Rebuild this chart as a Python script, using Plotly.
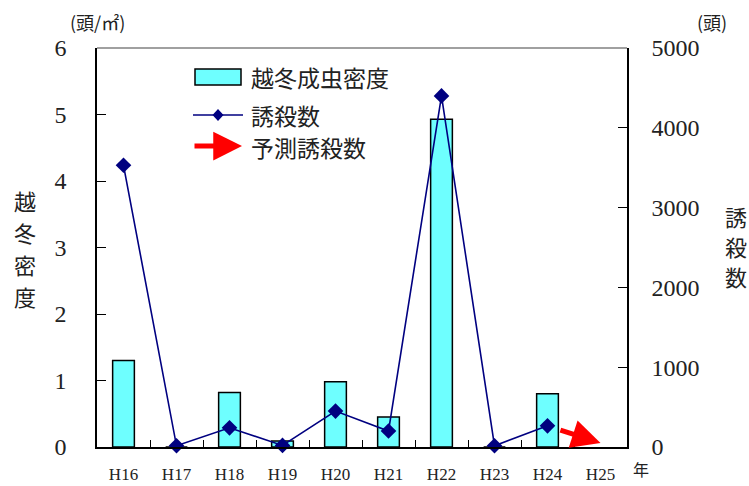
import plotly.graph_objects as go

# Survey years (Heisei era)
years = ["H16", "H17", "H18", "H19", "H20", "H21", "H22", "H23", "H24", "H25"]
# Overwintering adult density (head / m2), left axis
density = [1.3, 0.0, 0.82, 0.09, 0.98, 0.45, 4.93, 0.0, 0.8, None]
# Trap catch counts (heads), right axis
catches = [3530, 15, 240, 20, 450, 200, 4400, 15, 265, None]
# Forecast trap catch for the next year
forecast_from = ("H24", 265)
forecast_to = ("H25", 50)

left_ticks = [0, 1, 2, 3, 4, 5, 6]
right_ticks = [0, 1000, 2000, 3000, 4000, 5000]

W, H = 749, 486
L, R, T, B = 97, 627, 48, 447

serif = "Liberation Serif, Times New Roman, serif"
cjk = "Noto Sans CJK JP, sans-serif"


def px(x):
    return (x - L) / (R - L)


def py(y):
    return (B - y) / (B - T)


fig = go.Figure()

fig.add_trace(go.Bar(
    x=years, y=density, width=0.41,
    marker=dict(color="#6EFFFF", line=dict(color="black", width=1.5)),
    name="越冬成虫密度", yaxis="y",
))

fig.add_trace(go.Scatter(
    x=years, y=catches, mode="lines+markers",
    line=dict(color="#000080", width=1.6),
    marker=dict(symbol="diamond", size=12, color="#000080"),
    name="誘殺数", yaxis="y2", cliponaxis=False,
))

annotations = []
shapes = []

# forecast arrow
i0 = years.index(forecast_from[0])
i1 = years.index(forecast_to[0])
annotations.append(dict(
    x=i1, y=forecast_to[1], xref="x", yref="y2",
    ax=i0, ay=forecast_from[1], axref="x", ayref="y2",
    showarrow=True, arrowhead=2, arrowsize=1.15, arrowwidth=5,
    arrowcolor="#FF0000", startstandoff=12, text="",
))

# top frame line
shapes.append(dict(type="line", xref="paper", yref="paper", x0=0, x1=1, y0=1, y1=1,
                   line=dict(color="#808080", width=1.5)))

# legend
shapes.append(dict(type="rect", xref="paper", yref="paper",
                   x0=px(195), x1=px(241), y0=py(85), y1=py(69),
                   fillcolor="#6EFFFF", line=dict(color="black", width=1.5)))
shapes.append(dict(type="line", xref="paper", yref="paper",
                   x0=px(193), x1=px(243), y0=py(115), y1=py(115),
                   line=dict(color="#000080", width=1.6)))
dx, dy = 5.5, 6
shapes.append(dict(type="path", xref="paper", yref="paper",
                   path=f"M {px(218)} {py(115-dy)} L {px(218+dx)} {py(115)} L {px(218)} {py(115+dy)} L {px(218-dx)} {py(115)} Z",
                   fillcolor="#000080", line=dict(color="#000080", width=0)))
annotations.append(dict(x=px(242), y=py(146), xref="paper", yref="paper",
                        ax=-49, ay=0, showarrow=True, arrowhead=2, arrowsize=1.15,
                        arrowwidth=5, arrowcolor="#FF0000", text=""))
for label, y in [("越冬成虫密度", 77), ("誘殺数", 115), ("予測誘殺数", 147)]:
    annotations.append(dict(x=px(249), y=py(y), xref="paper", yref="paper",
                            text=label, showarrow=False, xanchor="left", yanchor="middle",
                            font=dict(family=cjk, size=23, color="#222")))

# units
annotations += [
    dict(x=px(97), y=py(22), xref="paper", yref="paper", text="(頭/㎡)",
         showarrow=False, xanchor="center", yanchor="middle",
         font=dict(family=cjk, size=18, color="#222")),
    dict(x=px(712), y=py(22), xref="paper", yref="paper", text="(頭)",
         showarrow=False, xanchor="center", yanchor="middle",
         font=dict(family=cjk, size=18, color="#222")),
    dict(x=px(641), y=py(469), xref="paper", yref="paper", text="年",
         showarrow=False, xanchor="center", yanchor="middle",
         font=dict(family=cjk, size=16, color="#222")),
]

# vertical axis titles, one character per line
for k, ch in enumerate("越冬密度"):
    annotations.append(dict(x=px(25), y=py(200 + 32 * k), xref="paper", yref="paper",
                            text=ch, showarrow=False, xanchor="center", yanchor="middle",
                            font=dict(family=cjk, size=22, color="#222")))
for k, ch in enumerate("誘殺数"):
    annotations.append(dict(x=px(736), y=py(216 + 30 * k), xref="paper", yref="paper",
                            text=ch, showarrow=False, xanchor="center", yanchor="middle",
                            font=dict(family=cjk, size=22, color="#222")))

fig.update_layout(
    width=W, height=H,
    margin=dict(l=L, r=W - R, t=T, b=H - B, autoexpand=False),
    plot_bgcolor="white", paper_bgcolor="white",
    showlegend=False,
    xaxis=dict(
        type="category", categoryorder="array", categoryarray=years,
        range=[-0.5, len(years) - 0.5], automargin=False,
        showline=True, linecolor="black", linewidth=1.5,
        ticks="inside", tickson="boundaries", ticklen=7, tickcolor="black",
        tickfont=dict(family=serif, size=17, color="#222"),
        ticklabelstandoff=11, showgrid=False, zeroline=False,
    ),
    yaxis=dict(
        range=[0, 6], tickvals=left_ticks, ticktext=[str(v) for v in left_ticks],
        automargin=False,
        showline=True, linecolor="black", linewidth=1.5,
        ticks="inside", ticklen=9, tickcolor="black",
        tickfont=dict(family=serif, size=24, color="#222"),
        ticklabelstandoff=24, showgrid=False, zeroline=False,
    ),
    yaxis2=dict(
        range=[0, 5000], overlaying="y", side="right", automargin=False,
        tickvals=right_ticks, ticktext=[str(v) for v in right_ticks],
        showline=True, linecolor="black", linewidth=1.5,
        ticks="inside", ticklen=9, tickcolor="black",
        tickfont=dict(family=serif, size=24, color="#222"),
        ticklabelstandoff=18, showgrid=False, zeroline=False,
    ),
    annotations=annotations, shapes=shapes,
)

fig.write_html("out.html")
